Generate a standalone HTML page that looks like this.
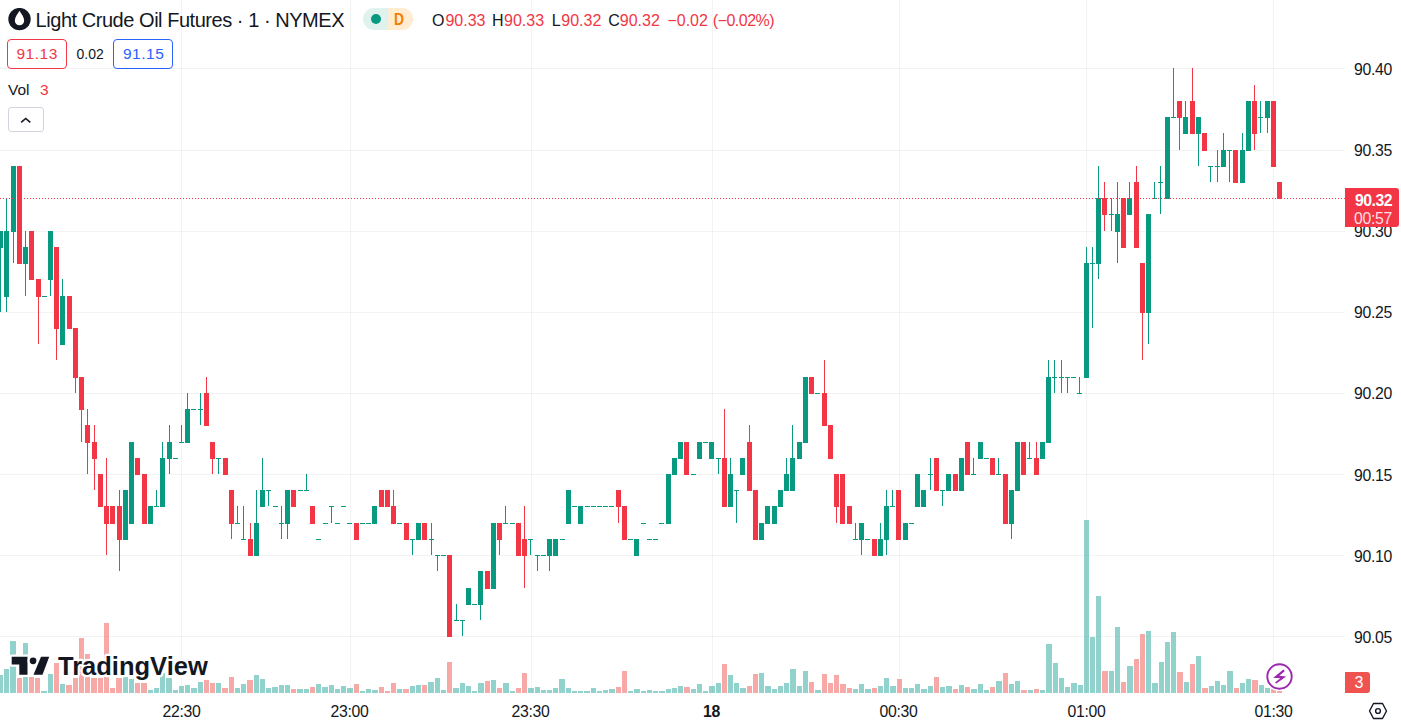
<!DOCTYPE html><html><head><meta charset="utf-8"><style>
*{margin:0;padding:0;box-sizing:border-box}
html,body{width:1401px;height:726px;overflow:hidden;background:#fff}
body{position:relative;font-family:"Liberation Sans",sans-serif;color:#131722}
.t{position:absolute;white-space:pre;line-height:1}
</style></head><body>
<svg width="1401" height="726" style="position:absolute;left:0;top:0" shape-rendering="crispEdges">
<rect x="0" y="68" width="1345" height="1" fill="rgba(42,46,57,0.06)"/><rect x="0" y="150" width="1345" height="1" fill="rgba(42,46,57,0.06)"/><rect x="0" y="231" width="1345" height="1" fill="rgba(42,46,57,0.06)"/><rect x="0" y="312" width="1345" height="1" fill="rgba(42,46,57,0.06)"/><rect x="0" y="393" width="1345" height="1" fill="rgba(42,46,57,0.06)"/><rect x="0" y="474" width="1345" height="1" fill="rgba(42,46,57,0.06)"/><rect x="0" y="555" width="1345" height="1" fill="rgba(42,46,57,0.06)"/><rect x="0" y="636" width="1345" height="1" fill="rgba(42,46,57,0.06)"/><rect x="181" y="0" width="1" height="693" fill="rgba(42,46,57,0.06)"/><rect x="350" y="0" width="1" height="693" fill="rgba(42,46,57,0.06)"/><rect x="531" y="0" width="1" height="693" fill="rgba(42,46,57,0.06)"/><rect x="712" y="0" width="1" height="693" fill="rgba(42,46,57,0.06)"/><rect x="899" y="0" width="1" height="693" fill="rgba(42,46,57,0.06)"/><rect x="1086" y="0" width="1" height="693" fill="rgba(42,46,57,0.06)"/><rect x="1273" y="0" width="1" height="693" fill="rgba(42,46,57,0.06)"/>
<rect x="-2" y="675" width="5" height="18" fill="rgba(38,166,154,0.5)"/><rect x="4" y="669" width="5" height="24" fill="rgba(38,166,154,0.5)"/><rect x="10" y="641" width="6" height="52" fill="rgba(38,166,154,0.5)"/><rect x="17" y="678" width="5" height="15" fill="rgba(239,83,80,0.5)"/><rect x="23" y="643" width="5" height="50" fill="rgba(38,166,154,0.5)"/><rect x="29" y="677" width="5" height="16" fill="rgba(239,83,80,0.5)"/><rect x="35" y="678" width="5" height="15" fill="rgba(239,83,80,0.5)"/><rect x="41" y="691" width="6" height="2" fill="rgba(38,166,154,0.5)"/><rect x="48" y="674" width="5" height="19" fill="rgba(38,166,154,0.5)"/><rect x="54" y="663" width="5" height="30" fill="rgba(239,83,80,0.5)"/><rect x="60" y="684" width="5" height="9" fill="rgba(38,166,154,0.5)"/><rect x="66" y="685" width="6" height="8" fill="rgba(239,83,80,0.5)"/><rect x="73" y="678" width="5" height="15" fill="rgba(239,83,80,0.5)"/><rect x="79" y="638" width="5" height="55" fill="rgba(239,83,80,0.5)"/><rect x="85" y="654" width="5" height="39" fill="rgba(239,83,80,0.5)"/><rect x="91" y="678" width="6" height="15" fill="rgba(239,83,80,0.5)"/><rect x="98" y="678" width="5" height="15" fill="rgba(239,83,80,0.5)"/><rect x="104" y="623" width="5" height="70" fill="rgba(239,83,80,0.5)"/><rect x="110" y="688" width="5" height="5" fill="rgba(239,83,80,0.5)"/><rect x="116" y="678" width="6" height="15" fill="rgba(239,83,80,0.5)"/><rect x="123" y="677" width="5" height="16" fill="rgba(38,166,154,0.5)"/><rect x="129" y="679" width="5" height="14" fill="rgba(38,166,154,0.5)"/><rect x="135" y="683" width="5" height="10" fill="rgba(239,83,80,0.5)"/><rect x="141" y="683" width="6" height="10" fill="rgba(239,83,80,0.5)"/><rect x="148" y="690" width="5" height="3" fill="rgba(38,166,154,0.5)"/><rect x="154" y="688" width="5" height="5" fill="rgba(38,166,154,0.5)"/><rect x="160" y="673" width="5" height="20" fill="rgba(38,166,154,0.5)"/><rect x="166" y="678" width="6" height="15" fill="rgba(38,166,154,0.5)"/><rect x="173" y="690" width="5" height="3" fill="rgba(38,166,154,0.5)"/><rect x="179" y="686" width="5" height="7" fill="rgba(38,166,154,0.5)"/><rect x="185" y="685" width="5" height="8" fill="rgba(38,166,154,0.5)"/><rect x="191" y="688" width="6" height="5" fill="rgba(38,166,154,0.5)"/><rect x="198" y="682" width="5" height="11" fill="rgba(38,166,154,0.5)"/><rect x="204" y="680" width="5" height="13" fill="rgba(239,83,80,0.5)"/><rect x="210" y="683" width="5" height="10" fill="rgba(239,83,80,0.5)"/><rect x="216" y="683" width="5" height="10" fill="rgba(38,166,154,0.5)"/><rect x="222" y="688" width="6" height="5" fill="rgba(239,83,80,0.5)"/><rect x="229" y="677" width="5" height="16" fill="rgba(239,83,80,0.5)"/><rect x="235" y="688" width="5" height="5" fill="rgba(38,166,154,0.5)"/><rect x="241" y="684" width="5" height="9" fill="rgba(38,166,154,0.5)"/><rect x="247" y="680" width="6" height="13" fill="rgba(239,83,80,0.5)"/><rect x="254" y="675" width="5" height="18" fill="rgba(38,166,154,0.5)"/><rect x="260" y="679" width="5" height="14" fill="rgba(38,166,154,0.5)"/><rect x="266" y="688" width="5" height="5" fill="rgba(38,166,154,0.5)"/><rect x="272" y="687" width="6" height="6" fill="rgba(38,166,154,0.5)"/><rect x="279" y="685" width="5" height="8" fill="rgba(38,166,154,0.5)"/><rect x="285" y="685" width="5" height="8" fill="rgba(38,166,154,0.5)"/><rect x="291" y="689" width="5" height="4" fill="rgba(239,83,80,0.5)"/><rect x="297" y="689" width="6" height="4" fill="rgba(38,166,154,0.5)"/><rect x="304" y="689" width="5" height="4" fill="rgba(38,166,154,0.5)"/><rect x="310" y="687" width="5" height="6" fill="rgba(239,83,80,0.5)"/><rect x="316" y="684" width="5" height="9" fill="rgba(38,166,154,0.5)"/><rect x="322" y="687" width="6" height="6" fill="rgba(38,166,154,0.5)"/><rect x="329" y="685" width="5" height="8" fill="rgba(38,166,154,0.5)"/><rect x="335" y="689" width="5" height="4" fill="rgba(38,166,154,0.5)"/><rect x="341" y="686" width="5" height="7" fill="rgba(38,166,154,0.5)"/><rect x="347" y="688" width="6" height="5" fill="rgba(38,166,154,0.5)"/><rect x="354" y="684" width="5" height="9" fill="rgba(239,83,80,0.5)"/><rect x="360" y="691" width="5" height="2" fill="rgba(38,166,154,0.5)"/><rect x="366" y="689" width="5" height="4" fill="rgba(38,166,154,0.5)"/><rect x="372" y="690" width="6" height="3" fill="rgba(38,166,154,0.5)"/><rect x="379" y="687" width="5" height="6" fill="rgba(239,83,80,0.5)"/><rect x="385" y="691" width="5" height="2" fill="rgba(239,83,80,0.5)"/><rect x="391" y="683" width="5" height="10" fill="rgba(239,83,80,0.5)"/><rect x="397" y="689" width="5" height="4" fill="rgba(38,166,154,0.5)"/><rect x="403" y="689" width="6" height="4" fill="rgba(239,83,80,0.5)"/><rect x="410" y="686" width="5" height="7" fill="rgba(38,166,154,0.5)"/><rect x="416" y="685" width="5" height="8" fill="rgba(38,166,154,0.5)"/><rect x="422" y="685" width="5" height="8" fill="rgba(239,83,80,0.5)"/><rect x="428" y="682" width="6" height="11" fill="rgba(38,166,154,0.5)"/><rect x="435" y="678" width="5" height="15" fill="rgba(38,166,154,0.5)"/><rect x="441" y="690" width="5" height="3" fill="rgba(38,166,154,0.5)"/><rect x="447" y="662" width="5" height="31" fill="rgba(239,83,80,0.5)"/><rect x="453" y="688" width="6" height="5" fill="rgba(38,166,154,0.5)"/><rect x="460" y="683" width="5" height="10" fill="rgba(38,166,154,0.5)"/><rect x="466" y="686" width="5" height="7" fill="rgba(38,166,154,0.5)"/><rect x="472" y="691" width="5" height="2" fill="rgba(38,166,154,0.5)"/><rect x="478" y="683" width="6" height="10" fill="rgba(38,166,154,0.5)"/><rect x="485" y="681" width="5" height="12" fill="rgba(239,83,80,0.5)"/><rect x="491" y="680" width="5" height="13" fill="rgba(38,166,154,0.5)"/><rect x="497" y="688" width="5" height="5" fill="rgba(239,83,80,0.5)"/><rect x="503" y="683" width="6" height="10" fill="rgba(38,166,154,0.5)"/><rect x="510" y="691" width="5" height="2" fill="rgba(38,166,154,0.5)"/><rect x="516" y="688" width="5" height="5" fill="rgba(239,83,80,0.5)"/><rect x="522" y="673" width="5" height="20" fill="rgba(239,83,80,0.5)"/><rect x="528" y="688" width="6" height="5" fill="rgba(38,166,154,0.5)"/><rect x="535" y="687" width="5" height="6" fill="rgba(38,166,154,0.5)"/><rect x="541" y="690" width="5" height="3" fill="rgba(38,166,154,0.5)"/><rect x="547" y="690" width="5" height="3" fill="rgba(38,166,154,0.5)"/><rect x="553" y="688" width="5" height="5" fill="rgba(38,166,154,0.5)"/><rect x="559" y="679" width="6" height="14" fill="rgba(38,166,154,0.5)"/><rect x="566" y="688" width="5" height="5" fill="rgba(38,166,154,0.5)"/><rect x="572" y="691" width="5" height="2" fill="rgba(38,166,154,0.5)"/><rect x="578" y="691" width="5" height="2" fill="rgba(38,166,154,0.5)"/><rect x="584" y="691" width="6" height="2" fill="rgba(38,166,154,0.5)"/><rect x="591" y="688" width="5" height="5" fill="rgba(38,166,154,0.5)"/><rect x="597" y="691" width="5" height="2" fill="rgba(38,166,154,0.5)"/><rect x="603" y="690" width="5" height="3" fill="rgba(38,166,154,0.5)"/><rect x="609" y="689" width="6" height="4" fill="rgba(38,166,154,0.5)"/><rect x="616" y="687" width="5" height="6" fill="rgba(239,83,80,0.5)"/><rect x="622" y="671" width="5" height="22" fill="rgba(239,83,80,0.5)"/><rect x="628" y="691" width="5" height="2" fill="rgba(38,166,154,0.5)"/><rect x="634" y="689" width="6" height="4" fill="rgba(38,166,154,0.5)"/><rect x="641" y="691" width="5" height="2" fill="rgba(38,166,154,0.5)"/><rect x="647" y="690" width="5" height="3" fill="rgba(38,166,154,0.5)"/><rect x="653" y="691" width="5" height="2" fill="rgba(38,166,154,0.5)"/><rect x="659" y="691" width="6" height="2" fill="rgba(38,166,154,0.5)"/><rect x="666" y="689" width="5" height="4" fill="rgba(38,166,154,0.5)"/><rect x="672" y="688" width="5" height="5" fill="rgba(38,166,154,0.5)"/><rect x="678" y="686" width="5" height="7" fill="rgba(38,166,154,0.5)"/><rect x="684" y="687" width="6" height="6" fill="rgba(239,83,80,0.5)"/><rect x="691" y="689" width="5" height="4" fill="rgba(38,166,154,0.5)"/><rect x="697" y="684" width="5" height="9" fill="rgba(38,166,154,0.5)"/><rect x="703" y="691" width="5" height="2" fill="rgba(38,166,154,0.5)"/><rect x="709" y="686" width="6" height="7" fill="rgba(38,166,154,0.5)"/><rect x="716" y="683" width="5" height="10" fill="rgba(38,166,154,0.5)"/><rect x="722" y="664" width="5" height="29" fill="rgba(239,83,80,0.5)"/><rect x="728" y="675" width="5" height="18" fill="rgba(38,166,154,0.5)"/><rect x="734" y="683" width="5" height="10" fill="rgba(38,166,154,0.5)"/><rect x="740" y="688" width="6" height="5" fill="rgba(38,166,154,0.5)"/><rect x="747" y="686" width="5" height="7" fill="rgba(239,83,80,0.5)"/><rect x="753" y="674" width="5" height="19" fill="rgba(239,83,80,0.5)"/><rect x="759" y="673" width="5" height="20" fill="rgba(38,166,154,0.5)"/><rect x="765" y="686" width="6" height="7" fill="rgba(38,166,154,0.5)"/><rect x="772" y="689" width="5" height="4" fill="rgba(38,166,154,0.5)"/><rect x="778" y="686" width="5" height="7" fill="rgba(38,166,154,0.5)"/><rect x="784" y="683" width="5" height="10" fill="rgba(38,166,154,0.5)"/><rect x="790" y="669" width="6" height="24" fill="rgba(38,166,154,0.5)"/><rect x="797" y="686" width="5" height="7" fill="rgba(38,166,154,0.5)"/><rect x="803" y="671" width="5" height="22" fill="rgba(38,166,154,0.5)"/><rect x="809" y="682" width="5" height="11" fill="rgba(239,83,80,0.5)"/><rect x="815" y="690" width="6" height="3" fill="rgba(38,166,154,0.5)"/><rect x="822" y="674" width="5" height="19" fill="rgba(239,83,80,0.5)"/><rect x="828" y="683" width="5" height="10" fill="rgba(239,83,80,0.5)"/><rect x="834" y="675" width="5" height="18" fill="rgba(239,83,80,0.5)"/><rect x="840" y="684" width="6" height="9" fill="rgba(239,83,80,0.5)"/><rect x="847" y="688" width="5" height="5" fill="rgba(239,83,80,0.5)"/><rect x="853" y="689" width="5" height="4" fill="rgba(38,166,154,0.5)"/><rect x="859" y="684" width="5" height="9" fill="rgba(38,166,154,0.5)"/><rect x="865" y="689" width="6" height="4" fill="rgba(38,166,154,0.5)"/><rect x="872" y="688" width="5" height="5" fill="rgba(239,83,80,0.5)"/><rect x="878" y="686" width="5" height="7" fill="rgba(38,166,154,0.5)"/><rect x="884" y="678" width="5" height="15" fill="rgba(38,166,154,0.5)"/><rect x="890" y="686" width="6" height="7" fill="rgba(38,166,154,0.5)"/><rect x="897" y="679" width="5" height="14" fill="rgba(239,83,80,0.5)"/><rect x="903" y="688" width="5" height="5" fill="rgba(38,166,154,0.5)"/><rect x="909" y="688" width="5" height="5" fill="rgba(38,166,154,0.5)"/><rect x="915" y="684" width="5" height="9" fill="rgba(38,166,154,0.5)"/><rect x="921" y="689" width="6" height="4" fill="rgba(38,166,154,0.5)"/><rect x="928" y="686" width="5" height="7" fill="rgba(38,166,154,0.5)"/><rect x="934" y="677" width="5" height="16" fill="rgba(239,83,80,0.5)"/><rect x="940" y="687" width="5" height="6" fill="rgba(38,166,154,0.5)"/><rect x="946" y="686" width="6" height="7" fill="rgba(38,166,154,0.5)"/><rect x="953" y="689" width="5" height="4" fill="rgba(239,83,80,0.5)"/><rect x="959" y="685" width="5" height="8" fill="rgba(38,166,154,0.5)"/><rect x="965" y="687" width="5" height="6" fill="rgba(239,83,80,0.5)"/><rect x="971" y="689" width="6" height="4" fill="rgba(38,166,154,0.5)"/><rect x="978" y="684" width="5" height="9" fill="rgba(38,166,154,0.5)"/><rect x="984" y="690" width="5" height="3" fill="rgba(38,166,154,0.5)"/><rect x="990" y="687" width="5" height="6" fill="rgba(239,83,80,0.5)"/><rect x="996" y="681" width="6" height="12" fill="rgba(38,166,154,0.5)"/><rect x="1003" y="673" width="5" height="20" fill="rgba(239,83,80,0.5)"/><rect x="1009" y="684" width="5" height="9" fill="rgba(38,166,154,0.5)"/><rect x="1015" y="681" width="5" height="12" fill="rgba(38,166,154,0.5)"/><rect x="1021" y="690" width="6" height="3" fill="rgba(239,83,80,0.5)"/><rect x="1028" y="690" width="5" height="3" fill="rgba(38,166,154,0.5)"/><rect x="1034" y="689" width="5" height="4" fill="rgba(239,83,80,0.5)"/><rect x="1040" y="690" width="5" height="3" fill="rgba(38,166,154,0.5)"/><rect x="1046" y="644" width="6" height="49" fill="rgba(38,166,154,0.5)"/><rect x="1053" y="663" width="5" height="30" fill="rgba(38,166,154,0.5)"/><rect x="1059" y="678" width="5" height="15" fill="rgba(38,166,154,0.5)"/><rect x="1065" y="687" width="5" height="6" fill="rgba(38,166,154,0.5)"/><rect x="1071" y="683" width="6" height="10" fill="rgba(38,166,154,0.5)"/><rect x="1078" y="685" width="5" height="8" fill="rgba(38,166,154,0.5)"/><rect x="1084" y="520" width="5" height="173" fill="rgba(38,166,154,0.5)"/><rect x="1090" y="637" width="5" height="56" fill="rgba(38,166,154,0.5)"/><rect x="1096" y="596" width="5" height="97" fill="rgba(38,166,154,0.5)"/><rect x="1102" y="671" width="6" height="22" fill="rgba(239,83,80,0.5)"/><rect x="1109" y="671" width="5" height="22" fill="rgba(38,166,154,0.5)"/><rect x="1115" y="627" width="5" height="66" fill="rgba(38,166,154,0.5)"/><rect x="1121" y="682" width="5" height="11" fill="rgba(239,83,80,0.5)"/><rect x="1127" y="666" width="6" height="27" fill="rgba(38,166,154,0.5)"/><rect x="1134" y="659" width="5" height="34" fill="rgba(239,83,80,0.5)"/><rect x="1140" y="634" width="5" height="59" fill="rgba(239,83,80,0.5)"/><rect x="1146" y="631" width="5" height="62" fill="rgba(38,166,154,0.5)"/><rect x="1152" y="683" width="6" height="10" fill="rgba(38,166,154,0.5)"/><rect x="1159" y="662" width="5" height="31" fill="rgba(38,166,154,0.5)"/><rect x="1165" y="642" width="5" height="51" fill="rgba(38,166,154,0.5)"/><rect x="1171" y="632" width="5" height="61" fill="rgba(38,166,154,0.5)"/><rect x="1177" y="672" width="6" height="21" fill="rgba(239,83,80,0.5)"/><rect x="1184" y="682" width="5" height="11" fill="rgba(38,166,154,0.5)"/><rect x="1190" y="664" width="5" height="29" fill="rgba(239,83,80,0.5)"/><rect x="1196" y="656" width="5" height="37" fill="rgba(38,166,154,0.5)"/><rect x="1202" y="688" width="6" height="5" fill="rgba(239,83,80,0.5)"/><rect x="1209" y="686" width="5" height="7" fill="rgba(38,166,154,0.5)"/><rect x="1215" y="681" width="5" height="12" fill="rgba(38,166,154,0.5)"/><rect x="1221" y="685" width="5" height="8" fill="rgba(38,166,154,0.5)"/><rect x="1227" y="671" width="6" height="22" fill="rgba(38,166,154,0.5)"/><rect x="1234" y="688" width="5" height="5" fill="rgba(239,83,80,0.5)"/><rect x="1240" y="683" width="5" height="10" fill="rgba(38,166,154,0.5)"/><rect x="1246" y="679" width="5" height="14" fill="rgba(38,166,154,0.5)"/><rect x="1252" y="680" width="6" height="13" fill="rgba(239,83,80,0.5)"/><rect x="1259" y="685" width="5" height="8" fill="rgba(38,166,154,0.5)"/><rect x="1265" y="688" width="5" height="5" fill="rgba(38,166,154,0.5)"/><rect x="1271" y="689" width="5" height="4" fill="rgba(239,83,80,0.5)"/><rect x="1277" y="691" width="5" height="2" fill="rgba(239,83,80,0.5)"/>
<rect x="0" y="231" width="1" height="81" fill="#089981"/><rect x="-2" y="231" width="5" height="17" fill="#089981"/><rect x="6" y="198" width="1" height="114" fill="#089981"/><rect x="4" y="231" width="5" height="66" fill="#089981"/><rect x="13" y="166" width="1" height="97" fill="#089981"/><rect x="11" y="166" width="5" height="66" fill="#089981"/><rect x="19" y="166" width="1" height="97" fill="#f23645"/><rect x="17" y="166" width="5" height="98" fill="#f23645"/><rect x="25" y="231" width="1" height="65" fill="#089981"/><rect x="23" y="247" width="5" height="17" fill="#089981"/><rect x="31" y="231" width="1" height="48" fill="#f23645"/><rect x="29" y="231" width="5" height="49" fill="#f23645"/><rect x="38" y="279" width="1" height="65" fill="#f23645"/><rect x="36" y="279" width="5" height="18" fill="#f23645"/><rect x="42" y="296" width="5" height="1" fill="#089981"/><rect x="50" y="231" width="1" height="65" fill="#089981"/><rect x="48" y="231" width="5" height="49" fill="#089981"/><rect x="56" y="247" width="1" height="113" fill="#f23645"/><rect x="54" y="247" width="5" height="82" fill="#f23645"/><rect x="62" y="279" width="1" height="65" fill="#089981"/><rect x="60" y="296" width="5" height="49" fill="#089981"/><rect x="69" y="296" width="1" height="32" fill="#f23645"/><rect x="67" y="296" width="5" height="33" fill="#f23645"/><rect x="75" y="328" width="1" height="65" fill="#f23645"/><rect x="73" y="328" width="5" height="50" fill="#f23645"/><rect x="81" y="377" width="1" height="65" fill="#f23645"/><rect x="79" y="377" width="5" height="33" fill="#f23645"/><rect x="87" y="409" width="1" height="65" fill="#f23645"/><rect x="85" y="425" width="5" height="18" fill="#f23645"/><rect x="94" y="425" width="1" height="65" fill="#f23645"/><rect x="92" y="442" width="5" height="17" fill="#f23645"/><rect x="100" y="474" width="1" height="32" fill="#f23645"/><rect x="98" y="474" width="5" height="33" fill="#f23645"/><rect x="106" y="458" width="1" height="97" fill="#f23645"/><rect x="104" y="506" width="5" height="18" fill="#f23645"/><rect x="112" y="506" width="1" height="17" fill="#f23645"/><rect x="110" y="506" width="5" height="18" fill="#f23645"/><rect x="119" y="490" width="1" height="81" fill="#f23645"/><rect x="117" y="506" width="5" height="34" fill="#f23645"/><rect x="125" y="490" width="1" height="49" fill="#089981"/><rect x="123" y="490" width="5" height="50" fill="#089981"/><rect x="131" y="442" width="1" height="81" fill="#089981"/><rect x="129" y="442" width="5" height="82" fill="#089981"/><rect x="137" y="458" width="1" height="16" fill="#f23645"/><rect x="135" y="458" width="5" height="17" fill="#f23645"/><rect x="144" y="474" width="1" height="49" fill="#f23645"/><rect x="142" y="474" width="5" height="50" fill="#f23645"/><rect x="150" y="506" width="1" height="17" fill="#089981"/><rect x="148" y="506" width="5" height="18" fill="#089981"/><rect x="156" y="490" width="1" height="16" fill="#089981"/><rect x="154" y="506" width="5" height="1" fill="#089981"/><rect x="162" y="442" width="1" height="64" fill="#089981"/><rect x="160" y="458" width="5" height="49" fill="#089981"/><rect x="169" y="425" width="1" height="49" fill="#089981"/><rect x="167" y="442" width="5" height="17" fill="#089981"/><rect x="173" y="458" width="5" height="1" fill="#089981"/><rect x="181" y="425" width="1" height="17" fill="#089981"/><rect x="179" y="442" width="5" height="1" fill="#089981"/><rect x="187" y="393" width="1" height="49" fill="#089981"/><rect x="185" y="409" width="5" height="34" fill="#089981"/><rect x="191" y="409" width="5" height="1" fill="#089981"/><rect x="200" y="393" width="1" height="32" fill="#089981"/><rect x="198" y="409" width="5" height="1" fill="#089981"/><rect x="206" y="377" width="1" height="48" fill="#f23645"/><rect x="204" y="393" width="5" height="33" fill="#f23645"/><rect x="212" y="442" width="1" height="32" fill="#f23645"/><rect x="210" y="442" width="5" height="17" fill="#f23645"/><rect x="218" y="458" width="1" height="16" fill="#089981"/><rect x="216" y="458" width="5" height="1" fill="#089981"/><rect x="225" y="458" width="1" height="16" fill="#f23645"/><rect x="223" y="458" width="5" height="17" fill="#f23645"/><rect x="231" y="490" width="1" height="49" fill="#f23645"/><rect x="229" y="490" width="5" height="34" fill="#f23645"/><rect x="237" y="506" width="1" height="17" fill="#089981"/><rect x="235" y="523" width="5" height="1" fill="#089981"/><rect x="243" y="506" width="1" height="33" fill="#089981"/><rect x="241" y="539" width="5" height="1" fill="#089981"/><rect x="250" y="523" width="1" height="32" fill="#f23645"/><rect x="248" y="539" width="5" height="17" fill="#f23645"/><rect x="256" y="490" width="1" height="65" fill="#089981"/><rect x="254" y="523" width="5" height="33" fill="#089981"/><rect x="262" y="458" width="1" height="48" fill="#089981"/><rect x="260" y="490" width="5" height="17" fill="#089981"/><rect x="268" y="490" width="1" height="16" fill="#089981"/><rect x="266" y="490" width="5" height="1" fill="#089981"/><rect x="273" y="506" width="5" height="1" fill="#089981"/><rect x="281" y="506" width="1" height="33" fill="#089981"/><rect x="279" y="523" width="5" height="1" fill="#089981"/><rect x="287" y="490" width="1" height="49" fill="#089981"/><rect x="285" y="490" width="5" height="34" fill="#089981"/><rect x="293" y="490" width="1" height="16" fill="#f23645"/><rect x="291" y="490" width="5" height="17" fill="#f23645"/><rect x="298" y="490" width="5" height="1" fill="#089981"/><rect x="306" y="474" width="1" height="16" fill="#089981"/><rect x="304" y="490" width="5" height="1" fill="#089981"/><rect x="312" y="506" width="1" height="17" fill="#f23645"/><rect x="310" y="506" width="5" height="18" fill="#f23645"/><rect x="316" y="539" width="5" height="1" fill="#089981"/><rect x="323" y="523" width="5" height="1" fill="#089981"/><rect x="331" y="506" width="1" height="17" fill="#089981"/><rect x="329" y="506" width="5" height="1" fill="#089981"/><rect x="335" y="523" width="5" height="1" fill="#089981"/><rect x="341" y="506" width="5" height="1" fill="#089981"/><rect x="347" y="523" width="5" height="1" fill="#089981"/><rect x="356" y="523" width="1" height="16" fill="#f23645"/><rect x="354" y="523" width="5" height="17" fill="#f23645"/><rect x="360" y="523" width="5" height="1" fill="#089981"/><rect x="366" y="523" width="5" height="1" fill="#089981"/><rect x="374" y="506" width="1" height="17" fill="#089981"/><rect x="372" y="506" width="5" height="18" fill="#089981"/><rect x="381" y="490" width="1" height="16" fill="#f23645"/><rect x="379" y="490" width="5" height="17" fill="#f23645"/><rect x="387" y="490" width="1" height="16" fill="#f23645"/><rect x="385" y="490" width="5" height="17" fill="#f23645"/><rect x="393" y="490" width="1" height="33" fill="#f23645"/><rect x="391" y="506" width="5" height="18" fill="#f23645"/><rect x="397" y="523" width="5" height="1" fill="#089981"/><rect x="406" y="523" width="1" height="16" fill="#f23645"/><rect x="404" y="523" width="5" height="17" fill="#f23645"/><rect x="412" y="539" width="1" height="16" fill="#089981"/><rect x="410" y="539" width="5" height="1" fill="#089981"/><rect x="418" y="523" width="1" height="16" fill="#089981"/><rect x="416" y="523" width="5" height="17" fill="#089981"/><rect x="424" y="523" width="1" height="16" fill="#f23645"/><rect x="422" y="523" width="5" height="17" fill="#f23645"/><rect x="431" y="523" width="1" height="32" fill="#089981"/><rect x="429" y="539" width="5" height="1" fill="#089981"/><rect x="437" y="555" width="1" height="16" fill="#089981"/><rect x="435" y="555" width="5" height="1" fill="#089981"/><rect x="441" y="555" width="5" height="1" fill="#089981"/><rect x="449" y="555" width="1" height="81" fill="#f23645"/><rect x="447" y="555" width="5" height="82" fill="#f23645"/><rect x="456" y="604" width="1" height="16" fill="#089981"/><rect x="454" y="620" width="5" height="1" fill="#089981"/><rect x="462" y="620" width="1" height="16" fill="#089981"/><rect x="460" y="620" width="5" height="1" fill="#089981"/><rect x="468" y="588" width="1" height="16" fill="#089981"/><rect x="466" y="588" width="5" height="17" fill="#089981"/><rect x="472" y="604" width="5" height="1" fill="#089981"/><rect x="480" y="571" width="1" height="49" fill="#089981"/><rect x="478" y="571" width="5" height="34" fill="#089981"/><rect x="487" y="571" width="1" height="17" fill="#f23645"/><rect x="485" y="571" width="5" height="18" fill="#f23645"/><rect x="493" y="523" width="1" height="65" fill="#089981"/><rect x="491" y="523" width="5" height="66" fill="#089981"/><rect x="499" y="523" width="1" height="32" fill="#f23645"/><rect x="497" y="523" width="5" height="17" fill="#f23645"/><rect x="505" y="506" width="1" height="17" fill="#089981"/><rect x="503" y="523" width="5" height="1" fill="#089981"/><rect x="510" y="523" width="5" height="1" fill="#089981"/><rect x="518" y="523" width="1" height="32" fill="#f23645"/><rect x="516" y="523" width="5" height="33" fill="#f23645"/><rect x="524" y="506" width="1" height="82" fill="#f23645"/><rect x="522" y="539" width="5" height="17" fill="#f23645"/><rect x="530" y="539" width="1" height="16" fill="#089981"/><rect x="528" y="539" width="5" height="1" fill="#089981"/><rect x="537" y="555" width="1" height="16" fill="#089981"/><rect x="535" y="555" width="5" height="1" fill="#089981"/><rect x="541" y="555" width="5" height="1" fill="#089981"/><rect x="549" y="539" width="1" height="32" fill="#089981"/><rect x="547" y="539" width="5" height="17" fill="#089981"/><rect x="555" y="539" width="1" height="16" fill="#089981"/><rect x="553" y="539" width="5" height="17" fill="#089981"/><rect x="560" y="539" width="5" height="1" fill="#089981"/><rect x="568" y="490" width="1" height="33" fill="#089981"/><rect x="566" y="490" width="5" height="34" fill="#089981"/><rect x="572" y="506" width="5" height="1" fill="#089981"/><rect x="580" y="506" width="1" height="17" fill="#089981"/><rect x="578" y="506" width="5" height="18" fill="#089981"/><rect x="585" y="506" width="5" height="1" fill="#089981"/><rect x="591" y="506" width="5" height="1" fill="#089981"/><rect x="597" y="506" width="5" height="1" fill="#089981"/><rect x="603" y="506" width="5" height="1" fill="#089981"/><rect x="609" y="506" width="5" height="1" fill="#089981"/><rect x="618" y="490" width="1" height="33" fill="#f23645"/><rect x="616" y="490" width="5" height="17" fill="#f23645"/><rect x="624" y="506" width="1" height="33" fill="#f23645"/><rect x="622" y="506" width="5" height="34" fill="#f23645"/><rect x="628" y="539" width="5" height="1" fill="#089981"/><rect x="636" y="539" width="1" height="16" fill="#089981"/><rect x="634" y="539" width="5" height="17" fill="#089981"/><rect x="641" y="523" width="5" height="1" fill="#089981"/><rect x="647" y="539" width="5" height="1" fill="#089981"/><rect x="653" y="539" width="5" height="1" fill="#089981"/><rect x="659" y="523" width="5" height="1" fill="#089981"/><rect x="668" y="474" width="1" height="49" fill="#089981"/><rect x="666" y="474" width="5" height="50" fill="#089981"/><rect x="674" y="458" width="1" height="16" fill="#089981"/><rect x="672" y="458" width="5" height="17" fill="#089981"/><rect x="680" y="442" width="1" height="16" fill="#089981"/><rect x="678" y="442" width="5" height="17" fill="#089981"/><rect x="686" y="442" width="1" height="32" fill="#f23645"/><rect x="684" y="442" width="5" height="33" fill="#f23645"/><rect x="691" y="474" width="5" height="1" fill="#089981"/><rect x="699" y="442" width="1" height="16" fill="#089981"/><rect x="697" y="442" width="5" height="17" fill="#089981"/><rect x="703" y="442" width="5" height="1" fill="#089981"/><rect x="711" y="442" width="1" height="16" fill="#089981"/><rect x="709" y="442" width="5" height="17" fill="#089981"/><rect x="718" y="458" width="1" height="16" fill="#089981"/><rect x="716" y="458" width="5" height="1" fill="#089981"/><rect x="724" y="409" width="1" height="97" fill="#f23645"/><rect x="722" y="458" width="5" height="49" fill="#f23645"/><rect x="730" y="458" width="1" height="48" fill="#089981"/><rect x="728" y="474" width="5" height="33" fill="#089981"/><rect x="736" y="490" width="1" height="33" fill="#089981"/><rect x="734" y="490" width="5" height="1" fill="#089981"/><rect x="742" y="458" width="1" height="16" fill="#089981"/><rect x="740" y="458" width="5" height="17" fill="#089981"/><rect x="749" y="425" width="1" height="65" fill="#f23645"/><rect x="747" y="442" width="5" height="49" fill="#f23645"/><rect x="755" y="490" width="1" height="49" fill="#f23645"/><rect x="753" y="490" width="5" height="50" fill="#f23645"/><rect x="761" y="523" width="1" height="16" fill="#089981"/><rect x="759" y="523" width="5" height="17" fill="#089981"/><rect x="767" y="506" width="1" height="17" fill="#089981"/><rect x="765" y="506" width="5" height="18" fill="#089981"/><rect x="774" y="506" width="1" height="17" fill="#089981"/><rect x="772" y="506" width="5" height="18" fill="#089981"/><rect x="780" y="490" width="1" height="16" fill="#089981"/><rect x="778" y="490" width="5" height="17" fill="#089981"/><rect x="786" y="458" width="1" height="32" fill="#089981"/><rect x="784" y="474" width="5" height="17" fill="#089981"/><rect x="792" y="425" width="1" height="65" fill="#089981"/><rect x="790" y="458" width="5" height="33" fill="#089981"/><rect x="799" y="442" width="1" height="16" fill="#089981"/><rect x="797" y="442" width="5" height="17" fill="#089981"/><rect x="805" y="377" width="1" height="65" fill="#089981"/><rect x="803" y="377" width="5" height="66" fill="#089981"/><rect x="811" y="377" width="1" height="16" fill="#f23645"/><rect x="809" y="377" width="5" height="17" fill="#f23645"/><rect x="815" y="393" width="5" height="1" fill="#089981"/><rect x="824" y="360" width="1" height="65" fill="#f23645"/><rect x="822" y="393" width="5" height="33" fill="#f23645"/><rect x="830" y="425" width="1" height="33" fill="#f23645"/><rect x="828" y="425" width="5" height="34" fill="#f23645"/><rect x="836" y="474" width="1" height="49" fill="#f23645"/><rect x="834" y="474" width="5" height="33" fill="#f23645"/><rect x="842" y="474" width="1" height="49" fill="#f23645"/><rect x="840" y="474" width="5" height="50" fill="#f23645"/><rect x="849" y="506" width="1" height="17" fill="#f23645"/><rect x="847" y="506" width="5" height="18" fill="#f23645"/><rect x="855" y="523" width="1" height="16" fill="#089981"/><rect x="853" y="539" width="5" height="1" fill="#089981"/><rect x="861" y="523" width="1" height="32" fill="#089981"/><rect x="859" y="523" width="5" height="17" fill="#089981"/><rect x="865" y="539" width="5" height="1" fill="#089981"/><rect x="874" y="539" width="1" height="16" fill="#f23645"/><rect x="872" y="539" width="5" height="17" fill="#f23645"/><rect x="880" y="523" width="1" height="32" fill="#089981"/><rect x="878" y="539" width="5" height="17" fill="#089981"/><rect x="886" y="490" width="1" height="65" fill="#089981"/><rect x="884" y="506" width="5" height="34" fill="#089981"/><rect x="892" y="490" width="1" height="16" fill="#089981"/><rect x="890" y="506" width="5" height="1" fill="#089981"/><rect x="898" y="490" width="1" height="49" fill="#f23645"/><rect x="896" y="490" width="5" height="50" fill="#f23645"/><rect x="905" y="523" width="1" height="16" fill="#089981"/><rect x="903" y="523" width="5" height="17" fill="#089981"/><rect x="909" y="523" width="5" height="1" fill="#089981"/><rect x="917" y="474" width="1" height="32" fill="#089981"/><rect x="915" y="474" width="5" height="33" fill="#089981"/><rect x="923" y="490" width="1" height="16" fill="#089981"/><rect x="921" y="490" width="5" height="17" fill="#089981"/><rect x="930" y="458" width="1" height="32" fill="#089981"/><rect x="928" y="474" width="5" height="1" fill="#089981"/><rect x="936" y="458" width="1" height="32" fill="#f23645"/><rect x="934" y="458" width="5" height="33" fill="#f23645"/><rect x="942" y="490" width="1" height="16" fill="#089981"/><rect x="940" y="490" width="5" height="1" fill="#089981"/><rect x="948" y="474" width="1" height="16" fill="#089981"/><rect x="946" y="474" width="5" height="17" fill="#089981"/><rect x="955" y="474" width="1" height="16" fill="#f23645"/><rect x="953" y="474" width="5" height="17" fill="#f23645"/><rect x="961" y="458" width="1" height="32" fill="#089981"/><rect x="959" y="458" width="5" height="33" fill="#089981"/><rect x="967" y="442" width="1" height="32" fill="#f23645"/><rect x="965" y="442" width="5" height="33" fill="#f23645"/><rect x="973" y="458" width="1" height="16" fill="#089981"/><rect x="971" y="474" width="5" height="1" fill="#089981"/><rect x="980" y="442" width="1" height="16" fill="#089981"/><rect x="978" y="442" width="5" height="17" fill="#089981"/><rect x="984" y="458" width="5" height="1" fill="#089981"/><rect x="992" y="458" width="1" height="16" fill="#f23645"/><rect x="990" y="458" width="5" height="17" fill="#f23645"/><rect x="998" y="458" width="1" height="16" fill="#089981"/><rect x="996" y="474" width="5" height="1" fill="#089981"/><rect x="1005" y="474" width="1" height="49" fill="#f23645"/><rect x="1003" y="474" width="5" height="50" fill="#f23645"/><rect x="1011" y="490" width="1" height="49" fill="#089981"/><rect x="1009" y="490" width="5" height="34" fill="#089981"/><rect x="1017" y="442" width="1" height="48" fill="#089981"/><rect x="1015" y="442" width="5" height="49" fill="#089981"/><rect x="1023" y="442" width="1" height="32" fill="#f23645"/><rect x="1021" y="442" width="5" height="33" fill="#f23645"/><rect x="1029" y="442" width="1" height="16" fill="#089981"/><rect x="1027" y="458" width="5" height="1" fill="#089981"/><rect x="1036" y="442" width="1" height="32" fill="#f23645"/><rect x="1034" y="458" width="5" height="17" fill="#f23645"/><rect x="1042" y="442" width="1" height="16" fill="#089981"/><rect x="1040" y="442" width="5" height="17" fill="#089981"/><rect x="1048" y="360" width="1" height="82" fill="#089981"/><rect x="1046" y="377" width="5" height="66" fill="#089981"/><rect x="1054" y="360" width="1" height="33" fill="#089981"/><rect x="1052" y="377" width="5" height="1" fill="#089981"/><rect x="1061" y="360" width="1" height="33" fill="#089981"/><rect x="1059" y="377" width="5" height="1" fill="#089981"/><rect x="1067" y="377" width="1" height="16" fill="#089981"/><rect x="1065" y="377" width="5" height="1" fill="#089981"/><rect x="1071" y="377" width="5" height="1" fill="#089981"/><rect x="1079" y="377" width="1" height="16" fill="#089981"/><rect x="1077" y="393" width="5" height="1" fill="#089981"/><rect x="1086" y="247" width="1" height="130" fill="#089981"/><rect x="1084" y="263" width="5" height="115" fill="#089981"/><rect x="1092" y="247" width="1" height="81" fill="#089981"/><rect x="1090" y="263" width="5" height="1" fill="#089981"/><rect x="1098" y="166" width="1" height="113" fill="#089981"/><rect x="1096" y="198" width="5" height="66" fill="#089981"/><rect x="1104" y="182" width="1" height="49" fill="#f23645"/><rect x="1102" y="198" width="5" height="17" fill="#f23645"/><rect x="1111" y="198" width="1" height="33" fill="#089981"/><rect x="1109" y="214" width="5" height="1" fill="#089981"/><rect x="1117" y="182" width="1" height="81" fill="#089981"/><rect x="1115" y="214" width="5" height="18" fill="#089981"/><rect x="1123" y="198" width="1" height="49" fill="#f23645"/><rect x="1121" y="198" width="5" height="50" fill="#f23645"/><rect x="1129" y="182" width="1" height="32" fill="#089981"/><rect x="1127" y="198" width="5" height="17" fill="#089981"/><rect x="1136" y="166" width="1" height="81" fill="#f23645"/><rect x="1134" y="182" width="5" height="66" fill="#f23645"/><rect x="1142" y="263" width="1" height="97" fill="#f23645"/><rect x="1140" y="263" width="5" height="50" fill="#f23645"/><rect x="1148" y="214" width="1" height="130" fill="#089981"/><rect x="1146" y="214" width="5" height="99" fill="#089981"/><rect x="1154" y="182" width="1" height="16" fill="#089981"/><rect x="1152" y="198" width="5" height="1" fill="#089981"/><rect x="1160" y="166" width="1" height="48" fill="#089981"/><rect x="1158" y="182" width="5" height="1" fill="#089981"/><rect x="1167" y="117" width="1" height="81" fill="#089981"/><rect x="1165" y="117" width="5" height="82" fill="#089981"/><rect x="1173" y="68" width="1" height="49" fill="#089981"/><rect x="1171" y="117" width="5" height="1" fill="#089981"/><rect x="1179" y="101" width="1" height="49" fill="#f23645"/><rect x="1177" y="101" width="5" height="17" fill="#f23645"/><rect x="1185" y="101" width="1" height="32" fill="#089981"/><rect x="1183" y="117" width="5" height="17" fill="#089981"/><rect x="1192" y="68" width="1" height="65" fill="#f23645"/><rect x="1190" y="101" width="5" height="33" fill="#f23645"/><rect x="1198" y="117" width="1" height="49" fill="#089981"/><rect x="1196" y="117" width="5" height="17" fill="#089981"/><rect x="1204" y="133" width="1" height="17" fill="#f23645"/><rect x="1202" y="133" width="5" height="18" fill="#f23645"/><rect x="1210" y="166" width="1" height="16" fill="#089981"/><rect x="1208" y="166" width="5" height="1" fill="#089981"/><rect x="1217" y="150" width="1" height="32" fill="#089981"/><rect x="1215" y="166" width="5" height="1" fill="#089981"/><rect x="1223" y="133" width="1" height="33" fill="#089981"/><rect x="1221" y="150" width="5" height="17" fill="#089981"/><rect x="1229" y="150" width="1" height="32" fill="#089981"/><rect x="1227" y="150" width="5" height="1" fill="#089981"/><rect x="1235" y="150" width="1" height="32" fill="#f23645"/><rect x="1233" y="150" width="5" height="33" fill="#f23645"/><rect x="1242" y="133" width="1" height="49" fill="#089981"/><rect x="1240" y="150" width="5" height="33" fill="#089981"/><rect x="1248" y="101" width="1" height="49" fill="#089981"/><rect x="1246" y="101" width="5" height="50" fill="#089981"/><rect x="1254" y="85" width="1" height="65" fill="#f23645"/><rect x="1252" y="101" width="5" height="33" fill="#f23645"/><rect x="1260" y="101" width="1" height="32" fill="#089981"/><rect x="1258" y="117" width="5" height="1" fill="#089981"/><rect x="1267" y="101" width="1" height="32" fill="#089981"/><rect x="1265" y="101" width="5" height="17" fill="#089981"/><rect x="1273" y="101" width="1" height="65" fill="#f23645"/><rect x="1271" y="101" width="5" height="66" fill="#f23645"/><rect x="1279" y="182" width="1" height="16" fill="#f23645"/><rect x="1277" y="182" width="5" height="17" fill="#f23645"/>
<line x1="0" y1="198.5" x2="1345" y2="198.5" stroke="#f23645" stroke-width="1" stroke-dasharray="1 2"/>
</svg>
<div class="t" style="left:1345px;width:47px;text-align:right;top:62.0px;font-size:15.8px;letter-spacing:-0.3px">90.40</div>
<div class="t" style="left:1345px;width:47px;text-align:right;top:143.1px;font-size:15.8px;letter-spacing:-0.3px">90.35</div>
<div class="t" style="left:1345px;width:47px;text-align:right;top:224.2px;font-size:15.8px;letter-spacing:-0.3px">90.30</div>
<div class="t" style="left:1345px;width:47px;text-align:right;top:305.3px;font-size:15.8px;letter-spacing:-0.3px">90.25</div>
<div class="t" style="left:1345px;width:47px;text-align:right;top:386.4px;font-size:15.8px;letter-spacing:-0.3px">90.20</div>
<div class="t" style="left:1345px;width:47px;text-align:right;top:467.5px;font-size:15.8px;letter-spacing:-0.3px">90.15</div>
<div class="t" style="left:1345px;width:47px;text-align:right;top:548.6px;font-size:15.8px;letter-spacing:-0.3px">90.10</div>
<div class="t" style="left:1345px;width:47px;text-align:right;top:629.7px;font-size:15.8px;letter-spacing:-0.3px">90.05</div>
<div class="t" style="left:141px;width:81px;text-align:center;top:704px;font-size:15.8px;letter-spacing:-0.3px;font-weight:400">22:30</div>
<div class="t" style="left:309px;width:81px;text-align:center;top:704px;font-size:15.8px;letter-spacing:-0.3px;font-weight:400">23:00</div>
<div class="t" style="left:490px;width:81px;text-align:center;top:704px;font-size:15.8px;letter-spacing:-0.3px;font-weight:400">23:30</div>
<div class="t" style="left:671px;width:81px;text-align:center;top:704px;font-size:15.8px;letter-spacing:-0.3px;font-weight:700">18</div>
<div class="t" style="left:858px;width:81px;text-align:center;top:704px;font-size:15.8px;letter-spacing:-0.3px;font-weight:400">00:30</div>
<div class="t" style="left:1046px;width:81px;text-align:center;top:704px;font-size:15.8px;letter-spacing:-0.3px;font-weight:400">01:00</div>
<div class="t" style="left:1233px;width:81px;text-align:center;top:704px;font-size:15.8px;letter-spacing:-0.3px;font-weight:400">01:30</div>
<div style="position:absolute;left:1345px;top:188px;width:54px;height:39px;background:#f23645;border-radius:0 3px 3px 0"></div>
<div class="t" style="left:1345px;width:47px;text-align:right;top:192.5px;font-size:15.8px;letter-spacing:-0.5px;font-weight:700;color:#fff">90.32</div>
<div class="t" style="left:1345px;width:47px;text-align:right;top:210.5px;font-size:15.8px;letter-spacing:-0.3px;color:rgba(255,255,255,0.85)">00:57</div>
<div style="position:absolute;left:1345px;top:672px;width:25px;height:21px;background:#ef5350;border-radius:0 3px 3px 0"></div>
<div class="t" style="left:1354.5px;top:675px;font-size:16px;color:#fff">3</div>
<div class="t" style="left:35.6px;top:9.6px;font-size:20px;letter-spacing:-0.46px">Light Crude Oil Futures · 1 · NYMEX</div>
<svg style="position:absolute;left:8px;top:8px" width="23" height="23" viewBox="0 0 23 23"><circle cx="11.5" cy="11.1" r="11.2" fill="#131722"/><path d="M11.5 2.8 C 9.6 6, 6.85 9.3, 6.85 12.65 A 4.65 4.65 0 0 0 16.15 12.65 C 16.15 9.3, 13.4 6, 11.5 2.8 Z" fill="#fff"/></svg>
<div style="position:absolute;left:363px;top:8px;width:50px;height:22px;border-radius:11px;overflow:hidden"><div style="position:absolute;left:0;top:0;width:25px;height:22px;background:#dff2ee"></div><div style="position:absolute;left:25px;top:0;width:25px;height:22px;background:#ffecd1"></div><div style="position:absolute;left:8.2px;top:6px;width:10px;height:10px;border-radius:50%;background:#089981"></div></div>
<div class="t" style="left:393.6px;top:11px;font-size:16.5px;font-weight:700;color:#f57c00;transform:scaleX(0.84);transform-origin:0 0">D</div>
<div class="t" style="left:431.9px;top:12.5px;font-size:16px;letter-spacing:0;color:#131722">O</div>
<div class="t" style="left:445.4px;top:12.5px;font-size:16px;letter-spacing:0;color:#f23645">90.33</div>
<div class="t" style="left:491.9px;top:12.5px;font-size:16px;letter-spacing:0;color:#131722">H</div>
<div class="t" style="left:504.0px;top:12.5px;font-size:16px;letter-spacing:0;color:#f23645">90.33</div>
<div class="t" style="left:551.8px;top:12.5px;font-size:16px;letter-spacing:0;color:#131722">L</div>
<div class="t" style="left:561.3px;top:12.5px;font-size:16px;letter-spacing:0;color:#f23645">90.32</div>
<div class="t" style="left:608.3px;top:12.5px;font-size:16px;letter-spacing:0;color:#131722">C</div>
<div class="t" style="left:619.8px;top:12.5px;font-size:16px;letter-spacing:0;color:#f23645">90.32</div>
<div class="t" style="left:667.4px;top:12.5px;font-size:16px;letter-spacing:0;color:#f23645">−0.02</div>
<div class="t" style="left:712.8px;top:12.5px;font-size:16px;letter-spacing:-0.5px;color:#f23645">(−0.02%)</div>
<div style="position:absolute;left:7px;top:39px;width:60px;height:30px;border:1px solid #f23645;border-radius:4px"></div>
<div class="t" style="left:16.5px;top:46px;font-size:15.5px;letter-spacing:0.5px;color:#f23645">91.13</div>
<div class="t" style="left:76.5px;top:47px;font-size:14px;color:#131722">0.02</div>
<div style="position:absolute;left:113px;top:39px;width:60px;height:30px;border:1px solid #2962ff;border-radius:4px"></div>
<div class="t" style="left:123px;top:46px;font-size:15.5px;letter-spacing:0.5px;color:#2962ff">91.15</div>
<div class="t" style="left:8px;top:82px;font-size:15.5px;color:#131722">Vol</div>
<div class="t" style="left:40px;top:82px;font-size:15.5px;color:#f23645">3</div>
<div style="position:absolute;left:8px;top:107px;width:36px;height:25px;border:1px solid #d1d4dc;border-radius:3px"></div>
<svg style="position:absolute;left:20px;top:116px" width="12" height="8" viewBox="0 0 12 8"><path d="M1.2 6.4 L5.7 2.5 L10.3 6.4" stroke="#131722" stroke-width="1.6" fill="none"/></svg>
<svg style="position:absolute;left:1368px;top:702px" width="20" height="18" viewBox="0 0 20 18"><path d="M5.5 1.5 H14.5 L18.5 9 L14.5 16.5 H5.5 L1.5 9 Z" stroke="#131722" stroke-width="1.4" fill="none" stroke-linejoin="round"/><circle cx="10" cy="9" r="2.4" stroke="#131722" stroke-width="1.4" fill="none"/></svg>
<svg style="position:absolute;left:1263px;top:660px" width="33" height="33" viewBox="0 0 33 33"><circle cx="16.5" cy="16.5" r="14.5" fill="#fff"/><circle cx="16.5" cy="16.5" r="12.2" stroke="#9c27b0" stroke-width="1.9" fill="none"/><path d="M20.4 9.6 L21.9 10.9 L16.3 15.8 L23.2 16.4 L13.4 23.6 L12.0 22.4 L17.4 18.3 L10.2 17.8 Z" fill="#9c27b0"/></svg>
<svg style="position:absolute;left:0;top:640px" width="230" height="50" viewBox="0 0 230 50"><g stroke="#fff" stroke-width="4.5" stroke-linejoin="round" paint-order="stroke"><path d="M11.7 16.7 H27.5 V34.7 H19.3 V24.5 H11.7 Z" fill="#131722"/><circle cx="33.1" cy="20.8" r="3.4" fill="#131722"/><path d="M41 16.7 H49.2 L42.5 34.7 H33.5 Z" fill="#131722"/><text x="58" y="34.7" font-family="Liberation Sans" font-weight="700" font-size="25.5" fill="#131722">TradingView</text></g></svg>
</body></html>
